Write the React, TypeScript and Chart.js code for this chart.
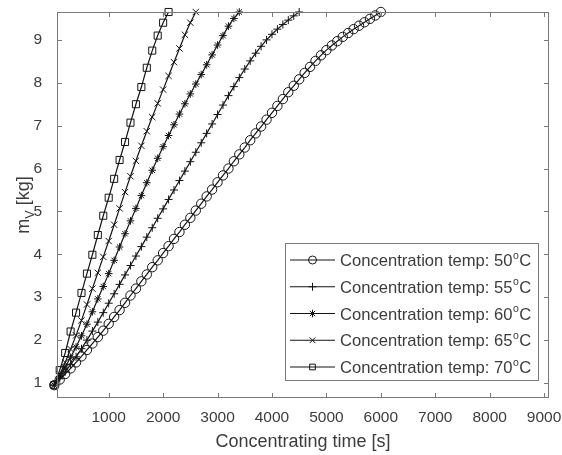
import React, { useEffect, useRef } from 'react';
import { Chart, registerables } from 'chart.js';

Chart.register(...registerables);

// ---- data ----
const timeSec = [
  0, 100, 200, 300, 400, 500, 600, 700, 800, 900,
  1000, 1100, 1200, 1300, 1400, 1500, 1600, 1700, 1800, 1900,
  2000, 2100, 2200, 2300, 2400, 2500, 2600, 2700, 2800, 2900,
  3000, 3100, 3200, 3300, 3400, 3500, 3600, 3700, 3800, 3900,
  4000, 4100, 4200, 4300, 4400, 4500, 4600, 4700, 4800, 4900,
  5000, 5100, 5200, 5300, 5400, 5500, 5600, 5700, 5800, 5900,
  6000,
];

const temps = ['50', '55', '60', '65', '70'];

const m50 = [
  0.95, 1.08, 1.21, 1.34, 1.48, 1.62, 1.77, 1.92, 2.07, 2.22,
  2.38, 2.54, 2.7, 2.87, 3.04, 3.2, 3.37, 3.53, 3.7, 3.86,
  4.03, 4.19, 4.36, 4.52, 4.69, 4.85, 5.02, 5.18, 5.35, 5.51,
  5.68, 5.84, 6.0, 6.17, 6.33, 6.49, 6.66, 6.82, 6.98, 7.14,
  7.3, 7.46, 7.62, 7.78, 7.93, 8.08, 8.23, 8.37, 8.51, 8.64,
  8.76, 8.87, 8.97, 9.07, 9.16, 9.25, 9.33, 9.41, 9.49, 9.57,
  9.65,
];
const m55 = [
  0.95, 1.1, 1.26, 1.43, 1.61, 1.8, 2.0, 2.21, 2.42, 2.64,
  2.86, 3.08, 3.3, 3.52, 3.74, 3.96, 4.18, 4.4, 4.62, 4.84,
  5.06, 5.28, 5.5, 5.72, 5.94, 6.16, 6.38, 6.6, 6.82, 7.04,
  7.26, 7.48, 7.7, 7.91, 8.12, 8.32, 8.51, 8.69, 8.85, 9.0,
  9.13, 9.25, 9.36, 9.46, 9.56, 9.65,
];
const m60 = [
  0.95, 1.15, 1.37, 1.6, 1.84, 2.1, 2.37, 2.66, 2.96, 3.25,
  3.55, 3.86, 4.17, 4.48, 4.78, 5.07, 5.37, 5.67, 5.96, 6.24,
  6.51, 6.77, 7.02, 7.27, 7.51, 7.74, 7.97, 8.19, 8.42, 8.65,
  8.88, 9.1, 9.32, 9.5, 9.65,
];
const m65 = [
  0.95, 1.2, 1.48, 1.79, 2.11, 2.46, 2.83, 3.2, 3.57, 3.94,
  4.31, 4.69, 5.07, 5.45, 5.82, 6.18, 6.53, 6.87, 7.2, 7.52,
  7.84, 8.16, 8.48, 8.8, 9.12, 9.4, 9.65,
];
const m70 = [
  0.95, 1.3, 1.7, 2.2, 2.64, 3.1, 3.55, 3.99, 4.45, 4.9,
  5.32, 5.76, 6.2, 6.62, 7.07, 7.5, 7.9, 8.35, 8.75, 9.1,
  9.4, 9.65,
];

const xTicks = [1000, 2000, 3000, 4000, 5000, 6000, 7000, 8000, 9000];
const yTicks = [1, 2, 3, 4, 5, 6, 7, 8, 9];

const xTitle = 'Concentrating time [s]';
const yTitleMain = 'm';
const yTitleSub = 'V';
const yTitleUnit = ' [kg]';
const legendPrefix = 'Concentration temp: ';

// ---- styling ----
const FONT = '"Liberation Sans", Arial, Helvetica, sans-serif';
const TEXT = '#3c3c3c';
const AXIS = '#7a7a7a';
const LINE = '#141414';

const seriesValues = [m50, m55, m60, m65, m70];
const markerStyles = ['circle', 'cross', 'star', 'crossRot', 'rect'];
const markerRadius = [4.7, 4, 3.8, 4.5, 5];

function drawMarker(ctx: CanvasRenderingContext2D, style: string, x: number, y: number, r: number) {
  ctx.beginPath();
  const d = r * Math.SQRT1_2;
  if (style === 'circle') {
    ctx.arc(x, y, r, 0, Math.PI * 2);
  } else if (style === 'cross') {
    ctx.moveTo(x - r, y); ctx.lineTo(x + r, y);
    ctx.moveTo(x, y - r); ctx.lineTo(x, y + r);
  } else if (style === 'crossRot') {
    ctx.moveTo(x - d, y - d); ctx.lineTo(x + d, y + d);
    ctx.moveTo(x - d, y + d); ctx.lineTo(x + d, y - d);
  } else if (style === 'star') {
    ctx.moveTo(x - r, y); ctx.lineTo(x + r, y);
    ctx.moveTo(x, y - r); ctx.lineTo(x, y + r);
    ctx.moveTo(x - d, y - d); ctx.lineTo(x + d, y + d);
    ctx.moveTo(x - d, y + d); ctx.lineTo(x + d, y - d);
  } else if (style === 'rect') {
    ctx.rect(x - d, y - d, 2 * d, 2 * d);
  }
  ctx.stroke();
}

const framePlugin = {
  id: 'matlabFrame',
  afterDraw(chart: any) {
    const ctx: CanvasRenderingContext2D = chart.ctx;
    const { left, right, top, bottom } = chart.chartArea;
    const xs = chart.scales.x;
    const ys = chart.scales.y;
    ctx.save();
    // box
    ctx.strokeStyle = AXIS;
    ctx.lineWidth = 1;
    ctx.strokeRect(left + 0.5, top + 0.5, right - left - 1, bottom - top - 1);
    // ticks
    ctx.beginPath();
    xTicks.forEach((v) => {
      const px = Math.round(xs.getPixelForValue(v)) + 0.5;
      ctx.moveTo(px, bottom); ctx.lineTo(px, bottom - 5);
      ctx.moveTo(px, top); ctx.lineTo(px, top + 5);
    });
    yTicks.forEach((v) => {
      const py = Math.round(ys.getPixelForValue(v)) + 0.5;
      ctx.moveTo(left, py); ctx.lineTo(left + 5, py);
      ctx.moveTo(right, py); ctx.lineTo(right - 5, py);
    });
    ctx.stroke();

    // x title
    ctx.fillStyle = TEXT;
    ctx.font = `18px ${FONT}`;
    ctx.textAlign = 'center';
    ctx.textBaseline = 'middle';
    ctx.fillText(xTitle, (left + right) / 2, 442);

    // y title (rotated, with subscript)
    ctx.save();
    ctx.translate(23, (top + bottom) / 2);
    ctx.rotate(-Math.PI / 2);
    ctx.textAlign = 'left';
    ctx.textBaseline = 'alphabetic';
    const bigFont = `18px ${FONT}`;
    const subFont = `12.5px ${FONT}`;
    ctx.font = bigFont;
    const w1 = ctx.measureText(yTitleMain).width;
    const w3 = ctx.measureText(yTitleUnit).width;
    ctx.font = subFont;
    const w2 = ctx.measureText(yTitleSub).width;
    const total = w1 + w2 + w3;
    let cx = -total / 2;
    ctx.font = bigFont;
    ctx.fillText(yTitleMain, cx, 6);
    cx += w1;
    ctx.font = subFont;
    ctx.fillText(yTitleSub, cx, 10.5);
    cx += w2;
    ctx.font = bigFont;
    ctx.fillText(yTitleUnit, cx, 6);
    ctx.restore();

    // legend
    const lx0 = 285, lx1 = 538, ly0 = 243, ly1 = 380;
    ctx.fillStyle = '#ffffff';
    ctx.fillRect(lx0, ly0, lx1 - lx0, ly1 - ly0);
    ctx.strokeStyle = AXIS;
    ctx.strokeRect(lx0 + 0.5, ly0 + 0.5, lx1 - lx0, ly1 - ly0);
    temps.forEach((t, i) => {
      const cy = 260 + i * 26.75;
      ctx.strokeStyle = LINE;
      ctx.lineWidth = 1.2;
      ctx.beginPath();
      ctx.moveTo(290, cy); ctx.lineTo(335, cy);
      ctx.stroke();
      ctx.lineWidth = 1;
      drawMarker(ctx, markerStyles[i], 312.5, cy, Math.min(markerRadius[i], 4));
      ctx.fillStyle = TEXT;
      ctx.textAlign = 'left';
      ctx.textBaseline = 'alphabetic';
      ctx.font = `16.6px ${FONT}`;
      const main = legendPrefix + t;
      ctx.fillText(main, 340, cy + 6);
      let tx = 340 + ctx.measureText(main).width;
      ctx.font = `10.5px ${FONT}`;
      ctx.fillText('o', tx + 0.5, cy - 1.5);
      tx += ctx.measureText('o').width + 1;
      ctx.font = `16.6px ${FONT}`;
      ctx.fillText('C', tx, cy + 6);
    });
    ctx.restore();
  },
};

export default function App() {
  const canvasRef = useRef<HTMLCanvasElement | null>(null);

  useEffect(() => {
    document.body.style.margin = '0';
    const canvas = canvasRef.current;
    if (!canvas) return;
    const datasets = seriesValues.map((vals, i) => ({
      label: `${legendPrefix}${temps[i]}°C`,
      data: vals.map((v, k) => ({ x: timeSec[k], y: v })),
      borderColor: LINE,
      borderWidth: 1.2,
      pointStyle: markerStyles[i],
      pointRadius: markerRadius[i],
      pointBorderWidth: 1,
      pointBorderColor: LINE,
      pointBackgroundColor: 'rgba(0,0,0,0)',
      fill: false,
      tension: 0,
      clip: 8,
    }));
    const chart = new Chart(canvas, {
      type: 'line',
      data: { datasets },
      options: {
        responsive: false,
        animation: false,
        devicePixelRatio: 1,
        layout: { padding: { top: 12, right: 13, left: 0, bottom: 0 } },
        plugins: { legend: { display: false }, tooltip: { enabled: false } },
        scales: {
          x: {
            type: 'linear',
            min: 50,
            max: 9090,
            grid: { display: false, drawTicks: false },
            border: { display: false },
            afterBuildTicks: (s: any) => { s.ticks = xTicks.map((v) => ({ value: v })); },
            afterFit: (s: any) => {
              s.height = 57;
              s.paddingLeft = 0; s.paddingRight = 0; s.paddingTop = 0; s.paddingBottom = 0;
            },
            ticks: {
              padding: 10,
              color: TEXT,
              font: { family: FONT, size: 15.5 },
              maxRotation: 0,
              autoSkip: false,
              callback: (v: any) => String(v),
            },
          },
          y: {
            type: 'linear',
            min: 0.65,
            max: 9.65,
            grid: { display: false, drawTicks: false },
            border: { display: false },
            afterBuildTicks: (s: any) => { s.ticks = yTicks.map((v) => ({ value: v })); },
            afterFit: (s: any) => {
              s.width = 57;
              s.paddingLeft = 0; s.paddingRight = 0; s.paddingTop = 0; s.paddingBottom = 0;
            },
            ticks: {
              padding: 15,
              color: TEXT,
              font: { family: FONT, size: 15.5 },
              autoSkip: false,
              callback: (v: any) => String(v),
            },
          },
        },
      },
      plugins: [framePlugin],
    } as any);
    return () => chart.destroy();
  }, []);

  return (
    <div style={{ position: 'absolute', left: 0, top: 0, width: 562, height: 455, background: '#fff' }}>
      <canvas ref={canvasRef} width={562} height={455} />
    </div>
  );
}
